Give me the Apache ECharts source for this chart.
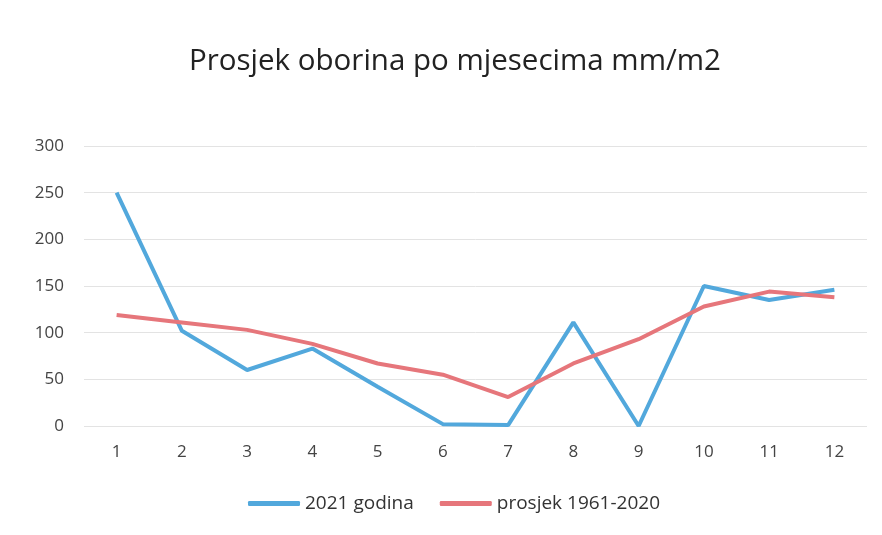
<!DOCTYPE html>
<html>
<head>
<meta charset="utf-8">
<script src="https://cdn.jsdelivr.net/npm/echarts@6/dist/echarts.min.js"></script>
<style>
  html, body { margin: 0; padding: 0; background: #fff; }
  #chart { width: 882px; height: 535px; }
</style>
</head>
<body>
<div id="chart"></div>
<script>
const months = ['1', '2', '3', '4', '5', '6', '7', '8', '9', '10', '11', '12']
const rain2021 = [250, 102, 60, 83, 42, 2, 1, 111, 0, 150, 135, 146]
const avg19612020 = [119, 111, 103, 88, 67, 55, 31, 67, 93, 128, 144, 138]
const seriesNames = ['2021 godina', 'prosjek 1961-2020']

const chart = echarts.init(document.getElementById('chart'))

const labelFont = "'Open Sans', 'Noto Sans', sans-serif"

const option = {
  backgroundColor: '#ffffff',
  animation: false,
  title: {
    text: 'Prosjek oborina po mjesecima mm/m2',
    left: 184,
    top: 42,
    textStyle: {
      fontFamily: labelFont,
      fontSize: 29.5,
      fontWeight: 'normal',
      color: '#222'
    }
  },
  legend: {
    data: seriesNames,
    bottom: 17,
    left: 243,
    icon: 'roundRect',
    itemWidth: 52,
    itemHeight: 5,
    itemGap: 26,
    textStyle: {
      fontFamily: labelFont,
      fontSize: 19,
      color: '#333'
    }
  },
  grid: {
    left: 84,
    right: 15,
    top: 146,
    bottom: 109
  },
  xAxis: {
    type: 'category',
    data: months,
    boundaryGap: true,
    axisLine: { show: false },
    axisTick: { show: false },
    axisLabel: {
      fontFamily: labelFont,
      fontSize: 17,
      color: '#444',
      margin: 18
    }
  },
  yAxis: {
    type: 'value',
    min: 0,
    max: 300,
    interval: 50,
    axisLine: { show: false },
    axisTick: { show: false },
    axisLabel: {
      fontFamily: labelFont,
      fontSize: 17,
      color: '#444',
      margin: 20
    },
    splitLine: {
      lineStyle: { color: '#e3e3e3', width: 1 }
    }
  },
  series: [
    {
      name: seriesNames[0],
      type: 'line',
      data: rain2021,
      symbol: 'none',
      lineStyle: { color: '#52a8dc', width: 4 },
      itemStyle: { color: '#52a8dc' }
    },
    {
      name: seriesNames[1],
      type: 'line',
      data: avg19612020,
      symbol: 'none',
      lineStyle: { color: '#e6767b', width: 4 },
      itemStyle: { color: '#e6767b' }
    }
  ]
}

chart.setOption(option)
</script>
</body>
</html>
